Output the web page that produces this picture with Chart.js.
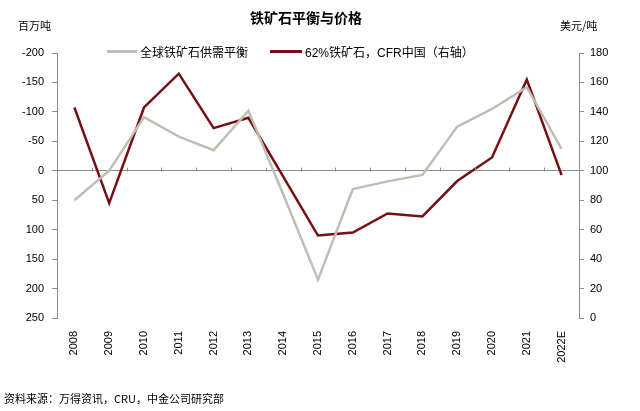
<!DOCTYPE html>
<html>
<head>
<meta charset="utf-8">
<script src="https://cdn.jsdelivr.net/npm/chart.js@4"></script>
<style>
  body { margin: 0; background: #fff; }
  #wrap { position: relative; width: 640px; height: 411px; font-family: "Liberation Sans", Arial, "Noto Sans CJK SC", sans-serif; color: #000; }
  #wrap canvas { position: absolute; left: 0; top: 0; }
  .txt { position: absolute; white-space: nowrap; }
  #title { left: 250px; top: 7px; font-size: 14px; font-weight: bold; font-family: "Noto Sans CJK SC", sans-serif; }
  #unitL { left: 18px; top: 17px; font-size: 11px; font-family: "Noto Sans CJK SC", sans-serif; }
  #unitR { left: 560px; top: 17px; font-size: 11px; font-family: "Noto Sans CJK SC", sans-serif; }
  .leg { position: absolute; top: 43px; font-size: 12px; display: flex; align-items: center; font-family: "Liberation Sans", Arial, "Noto Sans CJK SC", sans-serif; }
  .sw { display: inline-block; height: 3px; margin-right: 3px; }
  #source { left: 4px; top: 390px; font-size: 11px; font-family: "Noto Sans CJK SC", sans-serif; }
</style>
</head>
<body>
<div id="wrap">
  <canvas id="c" width="640" height="411"></canvas>
  <div class="txt" id="title">铁矿石平衡与价格</div>
  <div class="txt" id="unitL">百万吨</div>
  <div class="txt" id="unitR">美元/吨</div>
  <div class="leg" style="left:107px"><span class="sw" style="width:30px;background:#bfbeb2"></span>全球铁矿石供需平衡</div>
  <div class="leg" style="left:270px"><span class="sw" style="width:32px;background:#760f14"></span>62%铁矿石，CFR中国（右轴）</div>
  <div class="txt" id="source">资料来源：万得资讯，CRU，中金公司研究部</div>
</div>
<script>
  // categories
  const years = ["2008", "2009", "2010", "2011", "2012", "2013", "2014", "2015",
    "2016", "2017", "2018", "2019", "2020", "2021", "2022E"];
  // global iron ore supply-demand balance, Mt (left axis, reversed)
  const balance = [50, 0, -91, -58, -35, -102, 40, 185, 31, 18, 7, -75, -105, -142, -37];
  // 62% Fe fines, CFR China, USD/t (right axis)
  const price = [143, 78, 143, 166, 129, 136, 96, 56, 58, 71, 69, 93, 109, 162, 97];

  const leftTicks = { min: -200, max: 250, step: 50 };
  const rightTicks = { min: 0, max: 180, step: 20 };

  const AXIS = "#8c8c8c";

  // small upward tick marks on the zero line at category boundaries
  const zeroTicks = {
    id: "zeroTicks",
    afterDatasetsDraw(chart) {
      const x = chart.scales.x, y = chart.scales.y;
      const ctx = chart.ctx;
      const y0 = Math.round(y.getPixelForValue(0)) + 0.5;
      const half = (x.getPixelForValue(1) - x.getPixelForValue(0)) / 2;
      ctx.save();
      ctx.strokeStyle = AXIS;
      ctx.lineWidth = 1;
      ctx.beginPath();
      for (let i = 1; i < years.length; i++) {
        const px = Math.round(x.getPixelForValue(i) - half) + 0.5;
        ctx.moveTo(px, y0);
        ctx.lineTo(px, y0 - 4);
      }
      ctx.stroke();
      ctx.restore();
    },
  };

  new Chart(document.getElementById("c"), {
    type: "line",
    data: {
      labels: years,
      datasets: [
        {
          label: "全球铁矿石供需平衡",
          data: balance,
          yAxisID: "y",
          borderColor: "#bfbeb2",
          borderWidth: 2.5,
          pointRadius: 0,
          tension: 0,
        },
        {
          label: "62%铁矿石，CFR中国（右轴）",
          data: price,
          yAxisID: "y1",
          borderColor: "#760f14",
          borderWidth: 2.5,
          pointRadius: 0,
          tension: 0,
        },
      ],
    },
    options: {
      responsive: false,
      animation: false,
      layout: { padding: { top: 53, left: 0, right: 0, bottom: 0 } },
      plugins: { legend: { display: false }, tooltip: { enabled: false } },
      scales: {
        x: {
          offset: true,
          grid: { display: false },
          border: { display: false },
          ticks: {
            minRotation: 90,
            maxRotation: 90,
            padding: 5,
            color: "#000",
            font: { family: "'Liberation Sans', Arial, sans-serif", size: 11 },
          },
          afterFit: (s) => { s.height = 93; },
        },
        y: {
          position: "left",
          reverse: true,
          min: leftTicks.min,
          max: leftTicks.max,
          ticks: {
            stepSize: leftTicks.step,
            padding: 8,
            color: "#000",
            font: { family: "'Liberation Sans', Arial, sans-serif", size: 11 },
          },
          grid: {
            drawOnChartArea: true,
            color: (c) => (c.tick && c.tick.value === 0 ? AXIS : "rgba(0,0,0,0)"),
            tickColor: AXIS,
            tickLength: 5,
          },
          border: { display: true, color: AXIS },
          afterFit: (s) => { s.width = 57; },
        },
        y1: {
          position: "right",
          min: rightTicks.min,
          max: rightTicks.max,
          ticks: {
            stepSize: rightTicks.step,
            padding: 6,
            color: "#000",
            font: { family: "'Liberation Sans', Arial, sans-serif", size: 11 },
          },
          grid: { drawOnChartArea: false, tickColor: AXIS, tickLength: 5 },
          border: { display: true, color: AXIS },
          afterFit: (s) => { s.width = 61; },
        },
      },
    },
    plugins: [zeroTicks],
  });
</script>
</body>
</html>
